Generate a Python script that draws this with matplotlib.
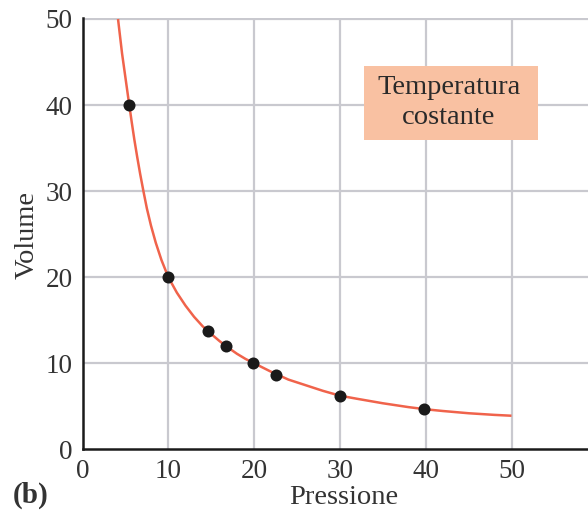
import matplotlib
matplotlib.use("Agg")
import matplotlib.pyplot as plt
from matplotlib.patches import Rectangle

# measured data points (Pressione, Volume)
pressione = [5.45, 10.0, 14.6, 16.7, 19.9, 22.6, 30.0, 39.8]
volume = [40.0, 20.0, 13.75, 12.0, 10.0, 8.64, 6.23, 4.65]

# curve
curve_p = [4.14, 4.375, 4.61, 4.89, 5.17, 5.45, 5.74, 6.04, 6.37, 6.72, 7.10, 7.5, 7.98,
           8.54, 9.2, 10.0, 11.0, 12.0, 13.0, 14.0, 15.0, 16.0, 17.0, 18.0, 19.0, 20.0,
           21.0, 22.0, 24.0, 26.0, 28.0, 30.0, 32.0, 35.0, 38.0, 40.0, 42.0, 45.0, 48.0, 50.0]
curve_v = [50.0, 48.0, 46.0, 44.0, 42.0, 40.0, 38.0, 36.0, 34.0, 32.0, 30.0, 28.0, 26.0,
           24.0, 22.0, 20.0, 18.2, 16.7, 15.4, 14.3, 13.4, 12.55, 11.8, 11.1, 10.5, 10.0,
           9.5, 9.0, 8.1, 7.45, 6.8, 6.23, 5.87, 5.35, 4.9, 4.65, 4.45, 4.19, 4.0, 3.9]

xticks = [0, 10, 20, 30, 40, 50]
yticks = [0, 10, 20, 30, 40, 50]

plt.rcParams['font.family'] = ['Liberation Serif', 'DejaVu Serif']

W, H = 588, 516
fig = plt.figure(figsize=(W / 100, H / 100), dpi=100)
x0, y0px, ytop = 82.5, 449.3, 19.0
ax = fig.add_axes([x0 / W, (H - y0px) / H, (W - x0) / W, (y0px - ytop + 1.5) / H])
ppx = (y0px - ytop) / 50.0
ax.set_xlim(0, (W - x0) / 8.58)
ax.set_ylim(0, 50 + 1.5 / ppx)

grid_c = '#c9c9cf'
for xv in xticks[1:]:
    ax.plot([xv, xv], [0, 50], color=grid_c, lw=1.6, zorder=1)
for yv in yticks[1:]:
    ax.axhline(yv, color=grid_c, lw=1.6, zorder=1)

ax.plot(curve_p, curve_v, color='#f0634b', lw=1.8, zorder=2, solid_capstyle='butt')
ax.scatter(pressione, volume, s=75, color='#1a1a1a', zorder=3, linewidths=0)

for s in ['top', 'right']:
    ax.spines[s].set_visible(False)
for s in ['left', 'bottom']:
    ax.spines[s].set_linewidth(1.8)
    ax.spines[s].set_color('#1a1a1a')

ax.set_xticks(xticks)
ax.set_yticks(yticks)
ax.tick_params(length=0, labelsize=19.5, colors='#333333')
ax.tick_params(axis='x', pad=7)
ax.tick_params(axis='y', pad=7)

fig.text(344 / W, 1 - 498 / H, 'Pressione', ha='center', va='center', fontsize=20.5, color='#333333')
fig.text(27 / W, 1 - 235 / H, 'Volume', ha='center', va='center', rotation=90, fontsize=20.5, color='#333333')
fig.text(13 / W, 1 - 495 / H, '(b)', ha='left', va='center', fontsize=21, fontweight='bold', color='#333333')

fig.patches.append(Rectangle((364 / W, 1 - 140 / H), (538 - 364) / W, (140 - 66) / H,
                             transform=fig.transFigure, facecolor='#f9c1a2', edgecolor='none', zorder=5))
fig.text(449 / W, 1 - 88 / H, 'Temperatura', ha='center', va='center', fontsize=20.5, color='#2a2a2a', zorder=6)
fig.text(449 / W, 1 - 117 / H, 'costante', ha='center', va='center', fontsize=20.5, color='#2a2a2a', zorder=6)

fig.savefig('out.png', dpi=100)
